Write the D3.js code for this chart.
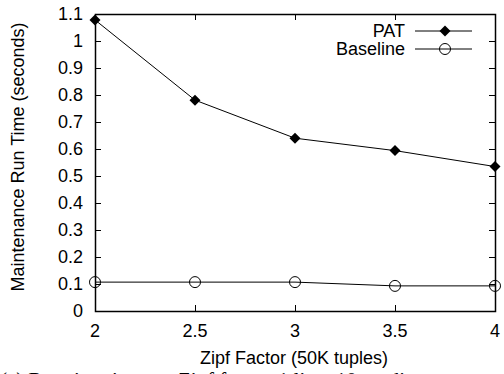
<!DOCTYPE html>
<html><head><meta charset="utf-8">
<script src="https://cdn.jsdelivr.net/npm/d3@7"></script>
<style>body{margin:0;background:#fff;overflow:hidden}svg{display:block}</style>
</head><body>
<svg id="c" width="504" height="374"></svg>
<script>
const zipf = [2, 2.5, 3, 3.5, 4];
const pat = [1.078, 0.781, 0.640, 0.594, 0.535];
const baseline = [0.107, 0.107, 0.107, 0.093, 0.093];
const yTicks = [0, 0.1, 0.2, 0.3, 0.4, 0.5, 0.6, 0.7, 0.8, 0.9, 1, 1.1];
const xTicks = [2, 2.5, 3, 3.5, 4];
const seriesNames = ["PAT", "Baseline"];

const svg = d3.select("#c");
const L = 95, R = 495, T = 14, B = 311;
const x = d3.scaleLinear().domain([2, 4]).range([L, R]);
const y = d3.scaleLinear().domain([0, 1.1]).range([B, T]);
const font = "'Liberation Sans', Arial, sans-serif";
const fs = 18;

// ticks inward on all sides
const g = svg.append("g").attr("stroke", "#000").attr("stroke-width", 1);
yTicks.forEach(v => {
  const yy = Math.round(y(v)) + 0.5;
  g.append("line").attr("x1", L).attr("x2", L + 6).attr("y1", yy).attr("y2", yy);
  g.append("line").attr("x1", R).attr("x2", R - 6).attr("y1", yy).attr("y2", yy);
});
xTicks.forEach(v => {
  const xx = Math.round(x(v)) + 0.5;
  g.append("line").attr("x1", xx).attr("x2", xx).attr("y1", B).attr("y2", B - 6);
  g.append("line").attr("x1", xx).attr("x2", xx).attr("y1", T).attr("y2", T + 6);
});
svg.append("rect").attr("x", L + 0.5).attr("y", T + 0.5).attr("width", R - L).attr("height", B - T)
  .attr("fill", "none").attr("stroke", "#000").attr("stroke-width", 1.5);

// tick labels
svg.append("g").selectAll("text").data(yTicks).join("text")
  .attr("x", L - 12).attr("y", d => y(d)).attr("dy", "0.36em")
  .attr("text-anchor", "end").attr("font-family", font).attr("font-size", fs)
  .text(d => d3.format("")(d));
svg.append("g").selectAll("text").data(xTicks).join("text")
  .attr("x", d => x(d)).attr("y", B + 20).attr("dy", "0.36em")
  .attr("text-anchor", "middle").attr("font-family", font).attr("font-size", fs)
  .text(d => d3.format("")(d));

// axis titles
svg.append("text").attr("x", 294).attr("y", 358).attr("dy", "0.36em")
  .attr("text-anchor", "middle").attr("font-family", font).attr("font-size", fs)
  .text("Zipf Factor (50K tuples)");
svg.append("text").attr("transform", "translate(18,157) rotate(-90)").attr("dy", "0.36em")
  .attr("text-anchor", "middle").attr("font-family", font).attr("font-size", fs)
  .text("Maintenance Run Time (seconds)");

// lines
const line = d3.line().x((d, i) => x(zipf[i])).y(d => y(d));
svg.append("path").datum(pat).attr("d", line).attr("fill", "none").attr("stroke", "#000").attr("stroke-width", 1);
svg.append("path").datum(baseline).attr("d", line).attr("fill", "none").attr("stroke", "#000").attr("stroke-width", 1);

function drawDiamond(sel, cx, cy) {
  sel.append("path").attr("d", "M0,-5.5L5.5,0L0,5.5L-5.5,0Z")
    .attr("transform", `translate(${cx},${cy})`).attr("fill", "#000");
}
function drawCircle(sel, cx, cy) {
  sel.append("circle").attr("cx", cx).attr("cy", cy).attr("r", 5.5)
    .attr("fill", "none").attr("stroke", "#000").attr("stroke-width", 1);
}
const mk = svg.append("g");
pat.forEach((v, i) => drawDiamond(mk, x(zipf[i]), y(v)));
baseline.forEach((v, i) => drawCircle(mk, x(zipf[i]), y(v)));

// legend
const legY = [31, 49];
seriesNames.forEach((n, i) => {
  svg.append("text").attr("x", 405).attr("y", legY[i]).attr("dy", "0.36em")
    .attr("text-anchor", "end").attr("font-family", font).attr("font-size", fs).text(n);
  svg.append("line").attr("x1", 415).attr("x2", 472).attr("y1", legY[i]).attr("y2", legY[i])
    .attr("stroke", "#000").attr("stroke-width", 1);
  if (i === 0) drawDiamond(svg, 445, legY[i]); else drawCircle(svg, 445, legY[i]);
});

// caption (cut off by the bottom edge, as in the reference)
svg.append("text").attr("x", 0).attr("y", 387).attr("font-family", "'Liberation Serif', 'Times New Roman', serif")
  .attr("font-size", 21).attr("fill", "#000")
  .text("(a) Running time vs. Zipf factor, 1 line, 10 predicates");
</script>
</body></html>
